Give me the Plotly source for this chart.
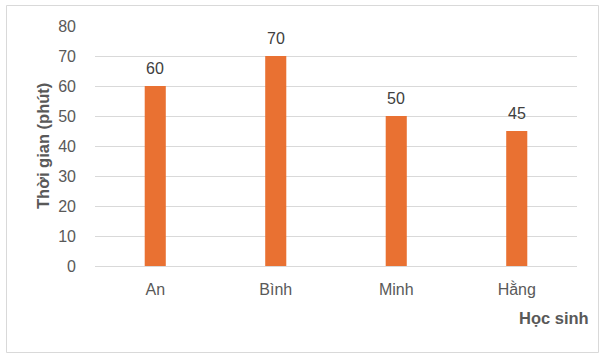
import plotly.graph_objects as go

students = ["An", "Bình", "Minh", "Hằng"]
minutes = [60, 70, 50, 45]
y_ticks = [0, 10, 20, 30, 40, 50, 60, 70, 80]

W, H = 605, 359
L, R, T, B = 95, 28, 26, 93
pw, ph = W - L - R, H - T - B

def px(x):
    return (x - L) / pw

def py(y):
    return (H - B - y) / ph

FONT = "Liberation Sans"
GREY = "#595959"

fig = go.Figure()
fig.add_trace(go.Bar(
    x=students, y=minutes,
    marker=dict(color="#E97132", line=dict(width=0)),
    width=0.175,
))

for s, v in zip(students, minutes):
    fig.add_annotation(x=s, y=v, text=str(v), showarrow=False,
                       yanchor="bottom", yshift=7,
                       font=dict(family=FONT, size=16, color="#404040"))

fig.add_annotation(xref="paper", yref="paper", x=px(43), y=py(146),
                   text="<b>Thời gian (phút)</b>", textangle=-90, showarrow=False,
                   xanchor="center", yanchor="middle",
                   font=dict(family=FONT, size=16.5, color=GREY))
fig.add_annotation(xref="paper", yref="paper", x=px(591), y=py(318),
                   text="<b>Học sinh</b>", showarrow=False,
                   xanchor="right", yanchor="middle",
                   font=dict(family=FONT, size=16.5, color=GREY))

fig.add_shape(type="rect", xref="paper", yref="paper",
              x0=px(6.5), x1=px(598.5), y0=py(352.5), y1=py(5.5),
              line=dict(color="#D9D9D9", width=1), fillcolor="rgba(0,0,0,0)", layer="below")

fig.update_layout(
    width=W, height=H,
    margin=dict(l=L, r=R, t=T, b=B, autoexpand=False),
    paper_bgcolor="white", plot_bgcolor="white",
    showlegend=False,
    font=dict(family=FONT, size=16, color=GREY),
    xaxis=dict(showgrid=False, showline=True, linecolor="#D9D9D9", linewidth=1,
               ticks="", tickfont=dict(size=16, color=GREY), ticklabelstandoff=9),
    yaxis=dict(range=[0, 80], tickvals=y_ticks, showgrid=True, gridcolor="#D9D9D9",
               gridwidth=1, zeroline=False, showline=False, ticks="",
               tickfont=dict(size=16, color=GREY), ticklabelstandoff=18),
)

fig.write_html("out.html")
